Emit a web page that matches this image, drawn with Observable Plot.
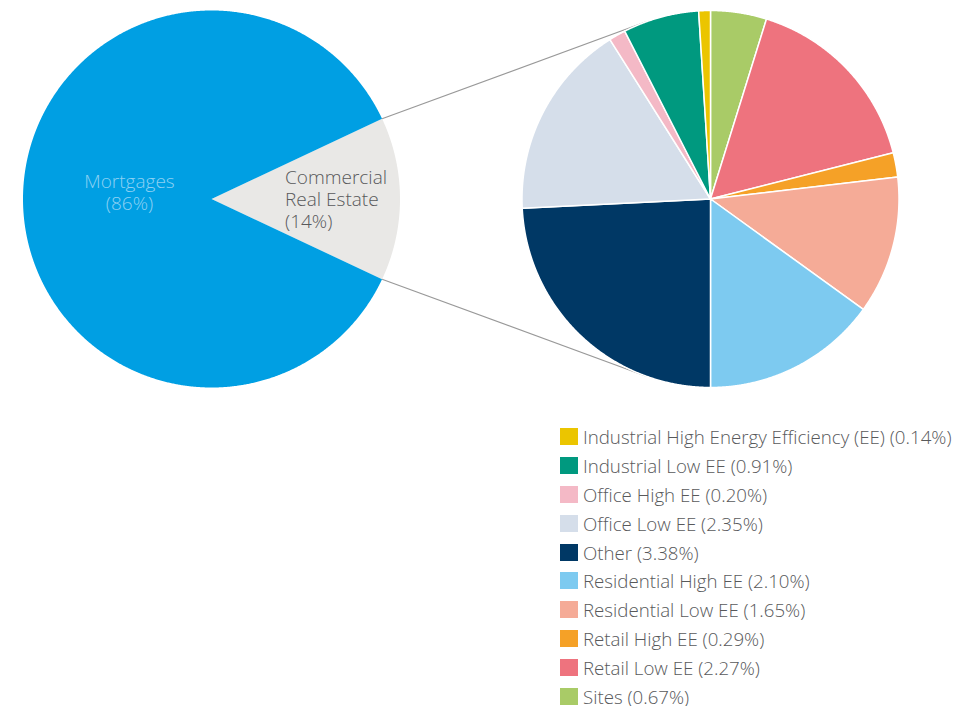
<!DOCTYPE html>
<html><head><meta charset="utf-8">
<script src="https://cdn.jsdelivr.net/npm/d3@7"></script>
<script src="https://cdn.jsdelivr.net/npm/@observablehq/plot@0.6"></script>
<style>
body{margin:0;background:#fff;font-family:"Open Sans",sans-serif;overflow:hidden;}
#legend{margin-left:560px;margin-top:12px;}
.row{display:flex;align-items:center;height:28.9px;font-size:18.7px;font-weight:300;color:#58595b;white-space:nowrap;}
.sw{width:18px;height:17px;margin-right:5px;flex:none;}
</style></head><body><div id="chart"></div><div id="legend"></div>
<script>
// Overview pie
const overviewLabels = ["Mortgages", "Commercial\nReal Estate"];
const overviewValues = [86, 14];
const overviewColors = ["#009fe3", "#e9e8e6"];
// Commercial real estate breakdown (legend order)
const creCategories = ["Industrial High Energy Efficiency (EE)", "Industrial Low EE", "Office High EE", "Office Low EE", "Other", "Residential High EE", "Residential Low EE", "Retail High EE", "Retail Low EE", "Sites"];
const creValues = [0.14, 0.91, 0.20, 2.35, 3.38, 2.10, 1.65, 0.29, 2.27, 0.67];
const creColors = ["#ebc500", "#00997f", "#f4b9c6", "#d5deea", "#003865", "#7dcaf0", "#f5ab97", "#f5a127", "#ee737e", "#a9cb67"];

// layout (pixels)
const W = 959, H = 410, R = 188.5;
const leftC = [211, 198.5], rightC = [710, 198.5];
const toU = ([px, py]) => [(px - leftC[0]) / R, (leftC[1] - py) / R];
const cL = toU(leftC), cR = toU(rightC);

function slicePolys(names, values, startAngle, center) {
  const arcs = d3.pie().sort(null).startAngle(startAngle).endAngle(startAngle + 2 * Math.PI)(values);
  const rows = [];
  arcs.forEach((a, i) => {
    const n = Math.max(2, Math.ceil((a.endAngle - a.startAngle) / 0.005));
    rows.push({slice: names[i], x: center[0], y: center[1]});
    for (let k = 0; k <= n; k++) {
      const t = a.startAngle + (a.endAngle - a.startAngle) * k / n;
      rows.push({slice: names[i], x: center[0] + Math.sin(t), y: center[1] + Math.cos(t)});
    }
  });
  return {arcs, rows};
}

const ovNames = ["Mortgages", "Commercial Real Estate"];
const creShare = overviewValues[1] / d3.sum(overviewValues);
const ovStart = Math.PI / 2 - creShare * Math.PI;
// order so CRE sits on the right (east)
const ov = slicePolys([ovNames[1], ovNames[0]], [overviewValues[1], overviewValues[0]], ovStart, cL);
const creOrder = d3.range(creCategories.length).reverse();
const cre = slicePolys(creOrder.map(i => creCategories[i]), creOrder.map(i => creValues[i]), 0, cR);

// connectors from CRE slice edges to tangent points on the right pie
const creArc = ov.arcs[0];
function tangent(p, c, upper) {
  const dx = p[0] - c[0], dy = p[1] - c[1];
  const d = Math.hypot(dx, dy), th = Math.atan2(dy, dx), al = Math.acos(1 / d);
  const a = upper ? th - al : th + al;
  return [c[0] + Math.cos(a), c[1] + Math.sin(a)];
}
const pTop = [cL[0] + Math.sin(creArc.startAngle), cL[1] + Math.cos(creArc.startAngle)];
const pBot = [cL[0] + Math.sin(creArc.endAngle), cL[1] + Math.cos(creArc.endAngle)];
const tTop = tangent(pTop, cR, true), tBot = tangent(pBot, cR, false);
const links = [{x1: pTop[0], y1: pTop[1], x2: tTop[0], y2: tTop[1]}, {x1: pBot[0], y1: pBot[1], x2: tBot[0], y2: tBot[1]}];

// labels
const labels = ov.arcs.map((a, i) => {
  const mid = (a.startAngle + a.endAngle) / 2;
  const isCre = i === 0;
  const rr = isCre ? 0.39 : 0.435;
  const idx = isCre ? 1 : 0;
  return {text: `${overviewLabels[idx]}\n(${overviewValues[idx]}%)`, x: cL[0] + rr * Math.sin(mid), y: cL[1] + rr * Math.cos(mid), cre: isCre};
});

const allNames = [...ovNames, ...creCategories];
const allColors = [...overviewColors, ...creColors];

const chart = Plot.plot({
  width: W, height: H, margin: 0,
  style: {fontFamily: "'Open Sans', sans-serif", background: "#fff"},
  x: {domain: [toU([0, 0])[0], toU([W, 0])[0]], range: [0, W], axis: null},
  y: {domain: [toU([0, 0])[1], toU([0, H])[1]], range: [0, H], axis: null},
  color: {domain: allNames, range: allColors},
  marks: [
    Plot.line(ov.rows, {x: "x", y: "y", z: "slice", fill: "slice", stroke: "none", curve: "linear-closed"}),
    Plot.link(links, {x1: "x1", y1: "y1", x2: "x2", y2: "y2", stroke: "#999", strokeWidth: 1.2}),
    Plot.line(cre.rows, {x: "x", y: "y", z: "slice", fill: "slice", stroke: "#fff", strokeWidth: 1.5, curve: "linear-closed"}),
    Plot.text(labels.filter(d => !d.cre), {x: "x", y: "y", text: "text", fill: "#8dd1f3", fontSize: 19, fontWeight: 300, lineHeight: 1.16, textAnchor: "middle", dy: -7}),
    Plot.text(labels.filter(d => d.cre), {x: "x", y: "y", text: "text", fill: "#58595b", fontSize: 19, fontWeight: 300, lineHeight: 1.16, textAnchor: "start"})
  ]
});
document.getElementById("chart").appendChild(chart);

const legend = document.getElementById("legend");
creCategories.forEach((c, i) => {
  const row = document.createElement("div");
  row.className = "row";
  row.innerHTML = `<span class="sw" style="background:${creColors[i]}"></span><span>${c} (${creValues[i].toFixed(2)}%)</span>`;
  legend.appendChild(row);
});
</script></body></html>
